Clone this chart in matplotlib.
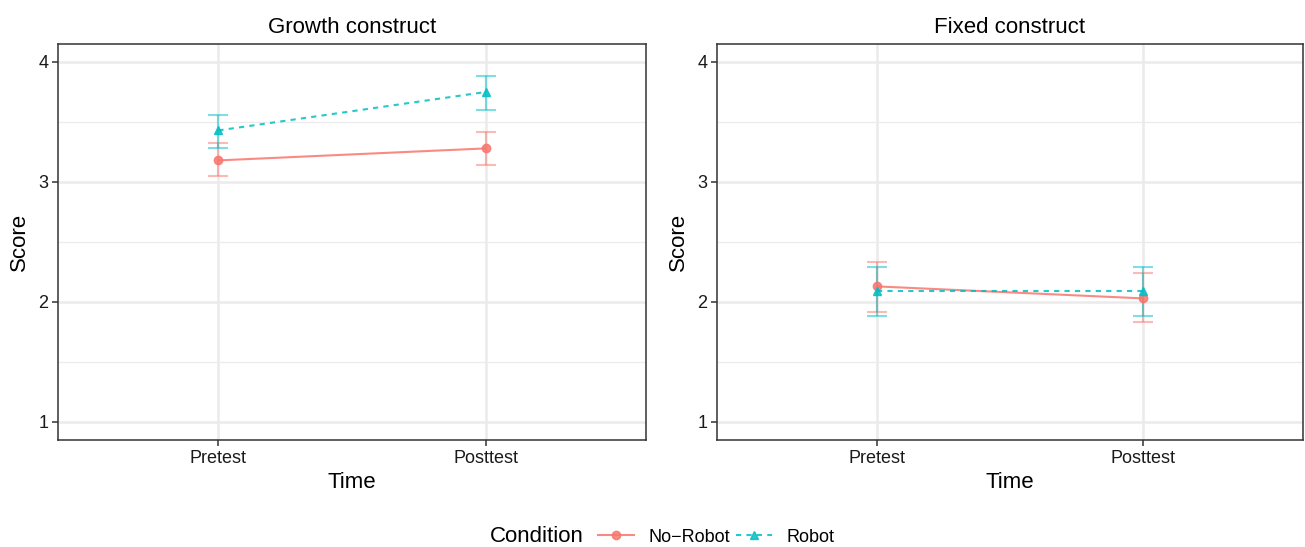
import matplotlib.pyplot as plt
from matplotlib.lines import Line2D
import numpy as np

plt.rcParams['font.family'] = ['Liberation Sans', 'DejaVu Sans']

times = ["Pretest", "Posttest"]
panels = ["Growth construct", "Fixed construct"]
conditions = ["No\u2212Robot", "Robot"]

# means and 95% CI bounds, per panel, per condition (pre, post)
means = {
    "Growth construct": {"No\u2212Robot": [3.18, 3.28], "Robot": [3.43, 3.75]},
    "Fixed construct": {"No\u2212Robot": [2.13, 2.03], "Robot": [2.09, 2.09]},
}
lower = {
    "Growth construct": {"No\u2212Robot": [3.05, 3.14], "Robot": [3.28, 3.60]},
    "Fixed construct": {"No\u2212Robot": [1.92, 1.83], "Robot": [1.885, 1.88]},
}
upper = {
    "Growth construct": {"No\u2212Robot": [3.325, 3.42], "Robot": [3.56, 3.88]},
    "Fixed construct": {"No\u2212Robot": [2.33, 2.24], "Robot": [2.29, 2.29]},
}

colors = {"No\u2212Robot": "#F8766D", "Robot": "#00BFC4"}
markers = {"No\u2212Robot": "o", "Robot": "^"}
styles = {"No\u2212Robot": "-", "Robot": (0, (2.5, 2.5))}

W, H = 1305, 547
fig = plt.figure(figsize=(W / 100, H / 100), dpi=100)
boxes = [(58, 44, 646, 440), (717, 44, 1303, 440)]

x = np.arange(1, len(times) + 1)
for panel, (x0, y0, x1, y1) in zip(panels, boxes):
    ax = fig.add_axes([x0 / W, 1 - y1 / H, (x1 - x0) / W, (y1 - y0) / H])
    for c in conditions:
        m = np.array(means[panel][c])
        lo = np.array(lower[panel][c])
        hi = np.array(upper[panel][c])
        ax.errorbar(x, m, yerr=[m - lo, hi - m], fmt='none', ecolor=colors[c],
                    alpha=0.5, elinewidth=1.5, capsize=7, capthick=1.5, zorder=3)
        ax.plot(x, m, color=colors[c], linestyle=styles[c], linewidth=1.5,
                marker=markers[c], markersize=6, alpha=0.85, zorder=4)
    ax.set_xlim(0.4, 2.6)
    ax.set_ylim(0.85, 4.15)
    ax.set_xticks(x)
    ax.set_xticklabels(times)
    ax.set_yticks([1, 2, 3, 4])
    ax.set_yticks([1.5, 2.5, 3.5], minor=True)
    ax.tick_params(axis='y', which='minor', length=0)
    ax.grid(True, which='major', color='#EBEBEB', linewidth=1.8, zorder=0)
    ax.grid(True, which='minor', axis='y', color='#EBEBEB', linewidth=0.9, zorder=0)
    ax.set_axisbelow(True)
    ax.tick_params(axis='both', which='major', length=4, width=1.1, color='#333333',
                   labelsize=13, labelcolor='#1a1a1a', pad=3)
    for s in ax.spines.values():
        s.set_color('#333333')
        s.set_linewidth(1.1)
    ax.set_xlabel("Time", fontsize=16, labelpad=4)
    ax.set_ylabel("Score", fontsize=16, labelpad=6)
    ax.set_title(panel, fontsize=16, pad=8)

# legend: title placed to the left of the entries
fig.text(490 / W, 1 - 537 / H, "Condition", fontsize=16, ha='left', va='center')
handles = [Line2D([0], [0], color=colors[c], linestyle=styles[c], marker=markers[c],
                  markersize=6, linewidth=1.5, alpha=0.85) for c in conditions]
fig.legend(handles, conditions, loc='center left', ncol=2,
           bbox_to_anchor=(598 / W, 1 - 537 / H), frameon=False, fontsize=13,
           handlelength=2.0, columnspacing=0.3, handletextpad=0.8,
           borderaxespad=0, borderpad=0)

fig.savefig("out.png", dpi=100)
